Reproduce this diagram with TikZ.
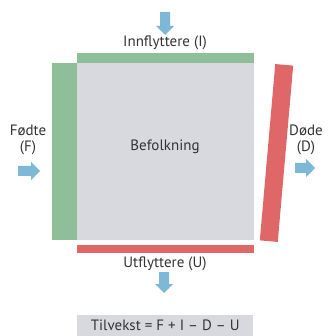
\documentclass[tikz,border=0pt]{standalone}
\usepackage{fontspec}
\setmainfont{PT Sans}
\definecolor{popgray}{HTML}{D8D9DF}
\definecolor{ingreen}{HTML}{8FBF98}
\definecolor{outred}{HTML}{E06767}
\definecolor{flowblue}{HTML}{7DB8D6}
\definecolor{txt}{HTML}{333333}
\begin{document}
\begin{tikzpicture}[x=1pt,y=-1pt,
  lbl/.style={text=txt,font=\fontsize{15}{16.5}\selectfont,inner sep=0pt,align=center},
  flow/.style={fill=flowblue,draw=none}]
\useasboundingbox (0,0) rectangle (328,336);
% population box and bars
\node[fill=popgray,minimum width=177pt,minimum height=177pt,inner sep=0pt,anchor=north west] (pop) at (77,63) {};
\node[fill=ingreen,minimum width=177pt,minimum height=10pt,inner sep=0pt,anchor=south west] (inbar) at (77,63) {};
\node[fill=ingreen,minimum width=25pt,minimum height=177pt,inner sep=0pt,anchor=north east] (bornbar) at (77,63) {};
\node[fill=outred,minimum width=177pt,minimum height=8pt,inner sep=0pt,anchor=north west] (outbar) at (77,245) {};
\node[fill=outred,minimum width=18pt,minimum height=177pt,inner sep=0pt,rotate=-5] (deadbar) at (276.5,153) {};
% labels
\node[lbl] (pl) at (165,147) {Befolkning};
\node[lbl] (il) at (165,43) {Innflyttere (I)};
\node[lbl] (ul) at (165,264) {Utflyttere (U)};
\node[lbl] (fl) at (28,140) {Fødte\\(F)};
\node[lbl] (dl) at (306,140) {Døde\\(D)};
\node[fill=popgray,minimum width=176pt,minimum height=22pt,inner sep=0pt,anchor=north west] (sumbox) at (77,315) {};
\node[lbl] (sum) at ([yshift=1pt]sumbox.center) {Tilvekst = F + I – D – U};
% flow arrows
\fill[flow] (160,12) -- (170,12) -- (170,26) -- (174,26) -- (165,35) -- (156,26) -- (160,26) -- cycle;
\fill[flow] (159,272) -- (169,272) -- (169,284) -- (173,284) -- (164,293) -- (155,284) -- (159,284) -- cycle;
\fill[flow] (18,166) -- (31,166) -- (31,162) -- (40,171) -- (31,180) -- (31,176) -- (18,176) -- cycle;
\fill[flow] (295,163) -- (306,163) -- (306,159) -- (315,168) -- (306,177) -- (306,173) -- (295,173) -- cycle;
\end{tikzpicture}
\end{document}
